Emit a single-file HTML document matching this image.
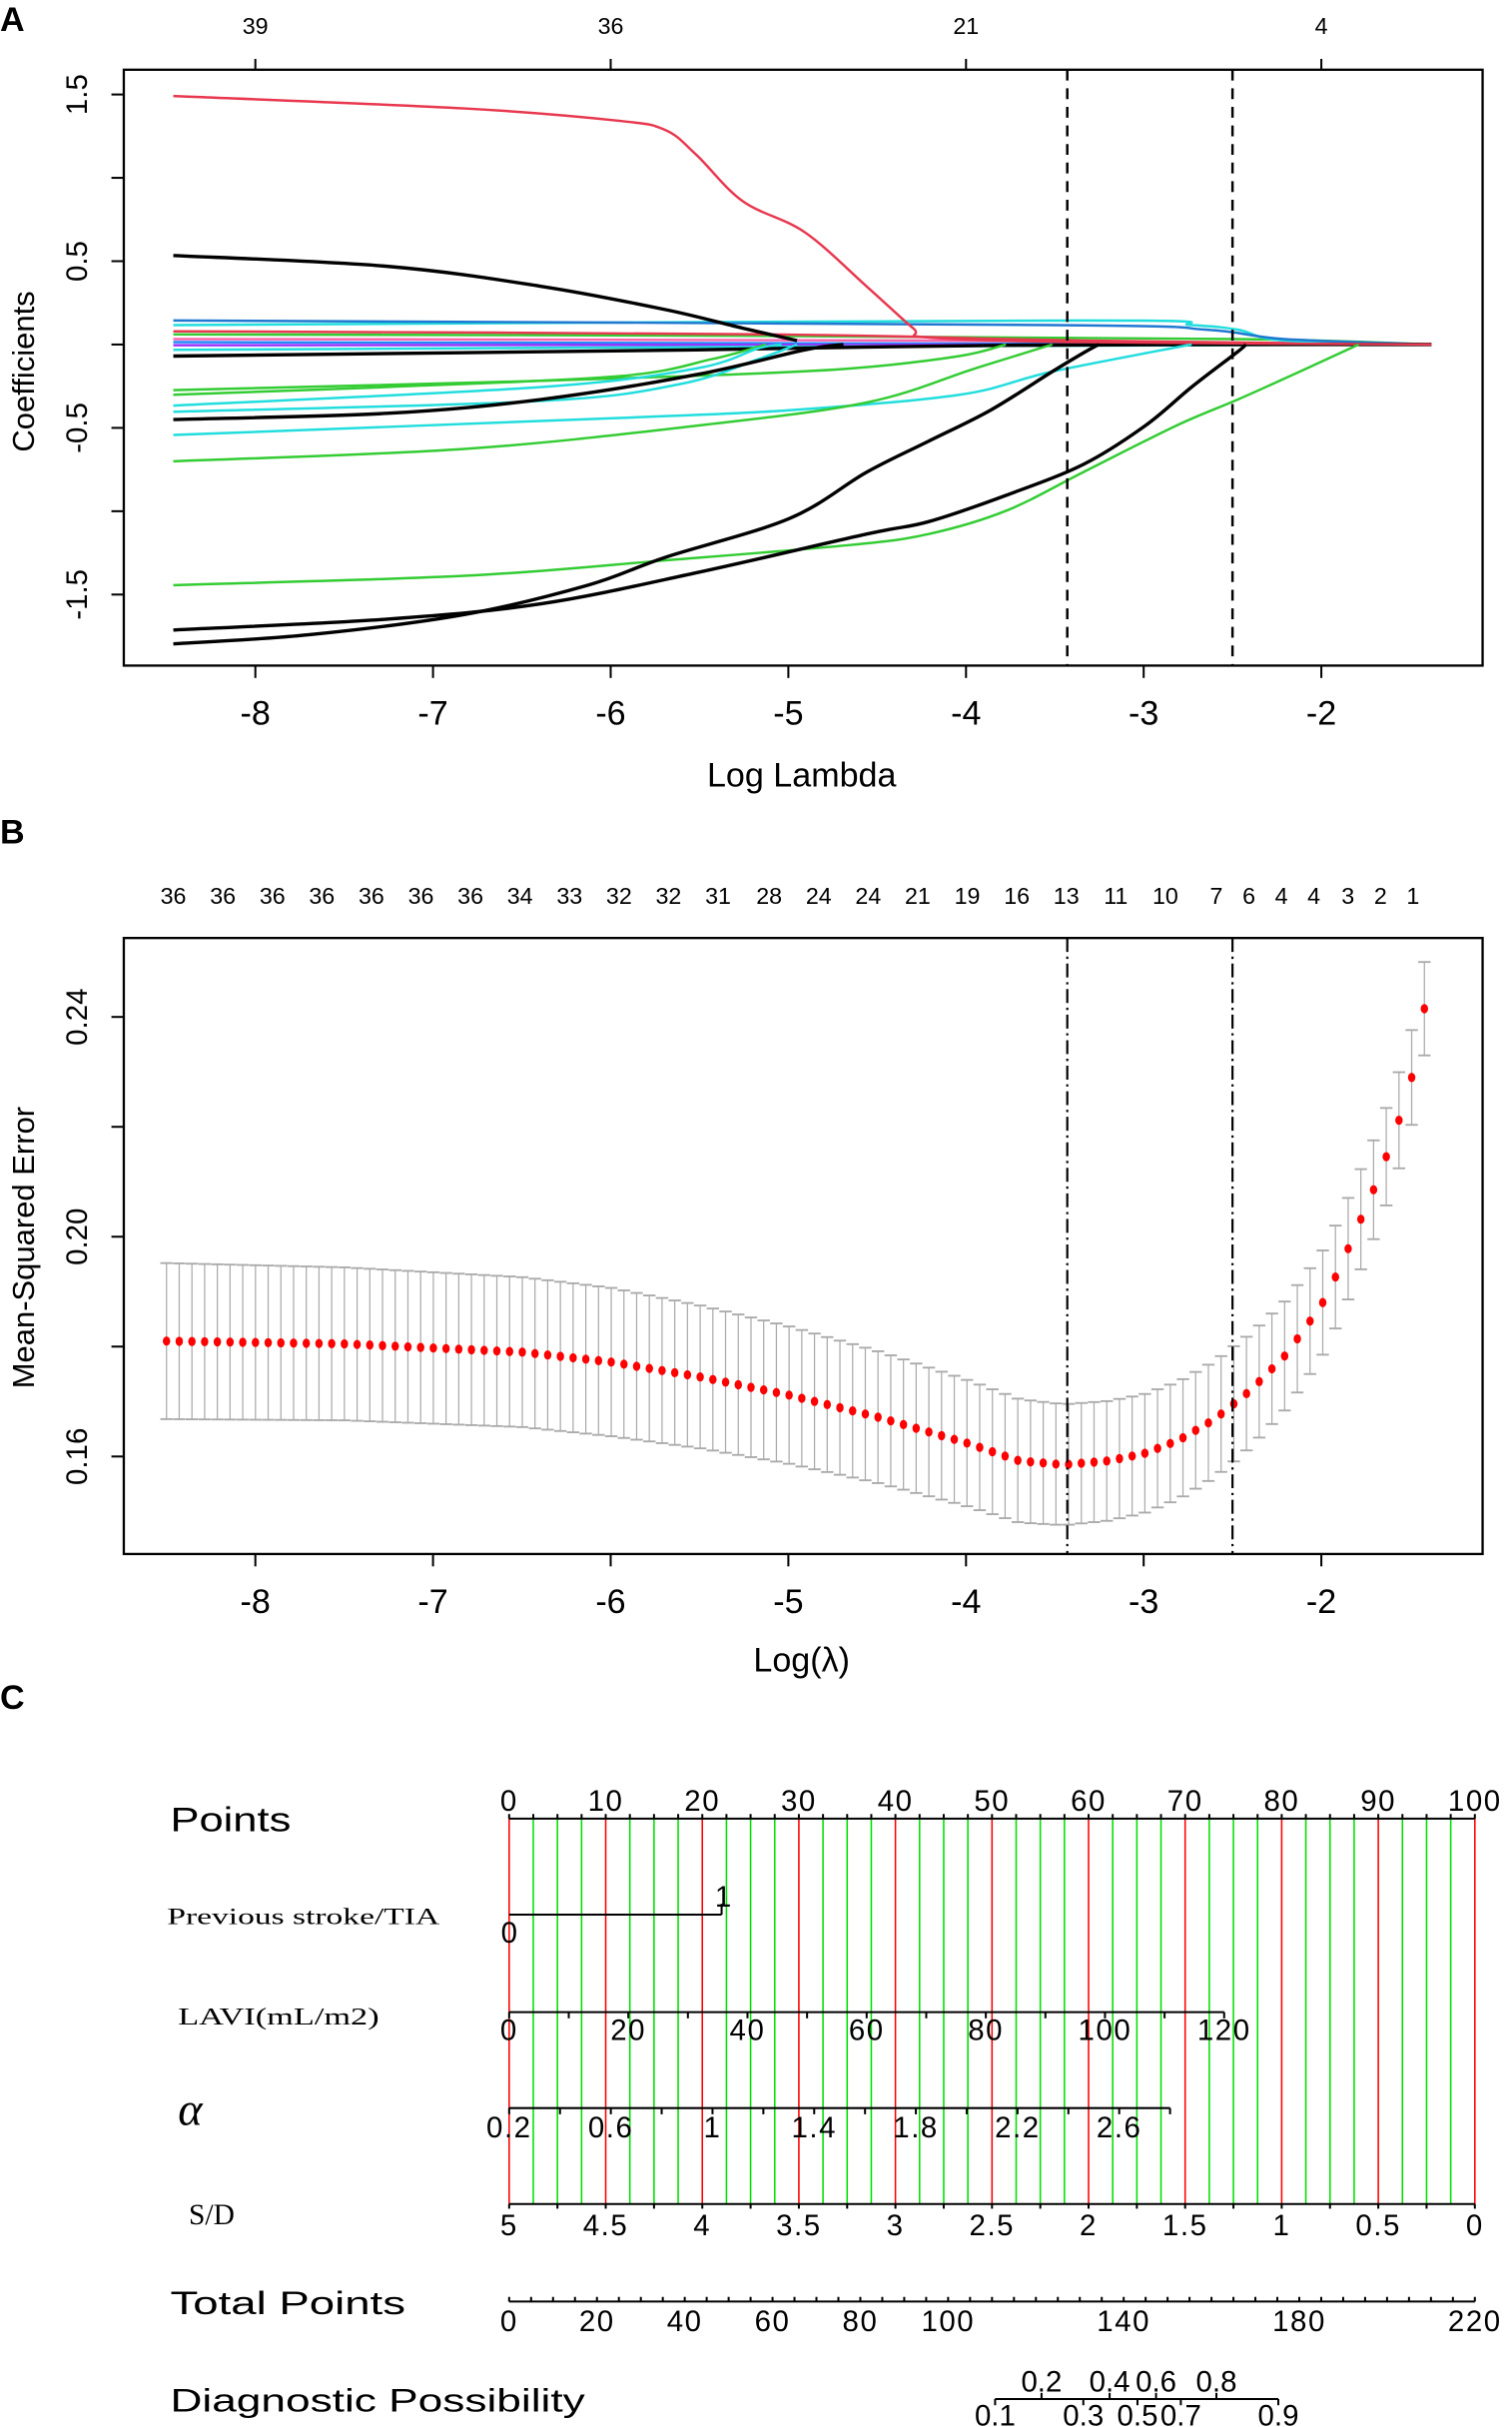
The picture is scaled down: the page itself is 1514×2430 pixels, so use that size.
<!DOCTYPE html>
<html><head><meta charset="utf-8"><style>
html,body{margin:0;padding:0;background:#fff;}
svg{display:block}
.n{font-family:"Liberation Sans Narrow","Liberation Sans",sans-serif;}
.s{font-family:"Liberation Sans",sans-serif;}
.r{font-family:"Liberation Serif",serif;}
</style></head><body>
<svg id="c" width="1514" height="2430" viewBox="0 0 977 1568" xmlns="http://www.w3.org/2000/svg"></svg>
<script>
var o=[];
function L(x1,y1,x2,y2,st){o.push('<line x1="'+x1+'" y1="'+y1+'" x2="'+x2+'" y2="'+y2+'" '+(st||'stroke="#000" stroke-width="1.3"')+'/>');}
function T(x,y,t,cls,sz,anc,extra){o.push('<text x="'+x+'" y="'+y+'" class="'+cls+'" font-size="'+sz+'" text-anchor="'+(anc||'middle')+'" '+(extra||'')+'>'+t+'</text>');}
function P(pts,col,w){
 var d='M'+pts[0][0]+','+pts[0][1];
 for(var i=0;i<pts.length-1;i++){var p0=pts[Math.max(0,i-1)],p1=pts[i],p2=pts[i+1],p3=pts[Math.min(pts.length-1,i+2)];
  var c1x=p1[0]+(p2[0]-p0[0])/6,c1y=p1[1]+(p2[1]-p0[1])/6,c2x=p2[0]-(p3[0]-p1[0])/6,c2y=p2[1]-(p3[1]-p1[1])/6;
  d+=' C'+c1x+','+c1y+' '+c2x+','+c2y+' '+p2[0]+','+p2[1];}
 o.push('<path fill="none" stroke="'+col+'" stroke-width="'+(w||1.6)+'" stroke-linejoin="round" d="'+d+'"/>');}
// ---------- Panel A
T(0,20,'A','s',22,'start','font-weight="bold"');
o.push('<rect x="80" y="45" width="878" height="385" fill="none" stroke="#000" stroke-width="1.5"/>');
function xa(v){return 165+(v+8)*114.8;}
for(var v=-8;v<=-2;v++){var x=xa(v);L(x,430,x,438);T(x,468,String(v),'n',22);}
[['39',-8],['36',-6],['21',-4],['4',-2]].forEach(function(a){T(xa(a[1]),22,a[0],'n',15);L(xa(a[1]),45,xa(a[1]),38);});
T(518,508,'Log Lambda','n',22);
function ya(c){return 61+(1.5-c)*107.7;}
for(var c=-1.5;c<=1.51;c+=0.5){var y=ya(c);L(72,y,80,y);}
[1.5,0.5,-0.5,-1.5].forEach(function(c){var y=ya(c);T(56,y,c.toFixed(1),'s',19,'middle','transform="rotate(-90 56 '+y+')"');});
T(22,240,'Coefficients','s',20,'middle','transform="rotate(-90 22 240)"');
var Z=222.5;
var lines=[
['#33cc33',[[112,216],[500,217],[800,219],[925,Z]]],
['#ff66aa',[[112,219],[600,220],[925,Z]]],
['#2288ff',[[112,221],[925,Z]]],
['#9933ff',[[112,223],[925,Z]]],
['#22dddd',[[112,226],[500,224],[925,Z]]],
['#e8384f',[[112,214],[500,216],[700,220],[925,Z]]],
['#22dddd',[[112,210],[700,207],[770,210],[800,213],[830,220],[925,Z]]],
['#1f78d1',[[112,207],[680,210],[780,213],[830,219],[925,Z]]],
['#000',[[112,230],[450,226],[650,223],[925,Z]]],
['#e8384f',[[112,62],[300,70],[400,78],[430,84],[450,100],[480,130],[520,150],[560,185],[590,212],[600,218],[700,221],[925,Z]]],
['#000',[[112,165],[250,172],[350,185],[430,200],[480,212],[515,220]]],
['#33cc33',[[112,252],[350,246],[470,242],[550,238],[620,230],[650,Z]]],
['#33cc33',[[112,255],[250,250],[400,243],[460,232],[495,Z]]],
['#22dddd',[[112,262],[350,250],[450,238],[490,225],[505,Z]]],
['#22dddd',[[112,266],[350,259],[440,248],[490,232],[515,Z]]],
['#000',[[112,271],[250,267],[350,258],[450,242],[520,226],[545,Z]]],
['#22dddd',[[112,281],[400,270],[510,265],[620,255],[680,240],[770,Z]]],
['#33cc33',[[112,298],[300,290],[450,275],[560,260],[630,238],[680,Z]]],
['#33cc33',[[112,378],[300,372],[430,362],[550,352],[600,345],[650,330],[700,305],[760,275],[800,258],[840,240],[878,Z]]],
['#000',[[112,407],[250,400],[350,390],[450,370],[560,345],[600,337],[650,320],[700,300],[740,275],[770,250],[800,227],[805,Z]]],
['#000',[[112,416],[200,410],[300,397],[380,378],[430,360],[510,335],[560,305],[600,285],[640,265],[680,240],[700,228],[710,Z]]]
];
lines.forEach(function(l){P(l[1],l[0],l[0]=='#000'?2.2:1.6);});
L(xa(-3.43),45,xa(-3.43),430,'stroke="#000" stroke-width="1.6" stroke-dasharray="7,5"');
L(xa(-2.5),45,xa(-2.5),430,'stroke="#000" stroke-width="1.6" stroke-dasharray="7,5"');
// ---------- Panel B
T(0,545,'B','s',22,'start','font-weight="bold"');
o.push('<rect x="80" y="606" width="878" height="398" fill="none" stroke="#000" stroke-width="1.5"/>');
for(var v=-8;v<=-2;v++){var x=xa(v);L(x,1004,x,1012);T(x,1042,String(v),'n',22);}
T(518,1080,'Log(λ)','n',22);
function yb(m){return 657+(0.24-m)/0.04*142;}
[0.16,0.18,0.20,0.22,0.24].forEach(function(m){L(72,yb(m),80,yb(m));});
[0.24,0.20,0.16].forEach(function(m){var y=yb(m);T(56,y,m.toFixed(2),'s',19,'middle','transform="rotate(-90 56 '+y+')"');});
T(22,806,'Mean-Squared Error','s',20,'middle','transform="rotate(-90 22 806)"');
var tops='36 36 36 36 36 36 36 34 33 32 32 31 28 24 24 21 19 16 13 11 10 7 6 4 4 3 2 1'.split(' ');
var tx=[112,144,176,208,240,272,304,336,368,400,432,464,497,529,561,593,625,657,689,721,753,786,807,828,849,871,892,913];
tops.forEach(function(t,i){T(tx[i],584,t,'n',15);});
function interp(pts,v){for(var i=0;i<pts.length-1;i++){if(v<=pts[i+1][0]){var a=pts[i],b=pts[i+1],f=(v-a[0])/(b[0]-a[0]);return a[1]+f*(b[1]-a[1]);}}return pts[pts.length-1][1];}
var mean=[[-8.5,0.181],[-7.5,0.1805],[-6.5,0.179],[-6,0.1772],[-5.5,0.1745],[-5,0.1712],[-4.5,0.1672],[-4,0.1625],[-3.7,0.1592],[-3.45,0.1585],[-3.2,0.1592],[-3,0.1605],[-2.8,0.163],[-2.6,0.1668],[-2.4,0.172],[-2.2,0.1785],[-2,0.1875],[-1.9,0.194],[-1.8,0.2015],[-1.7,0.209],[-1.6,0.2175],[-1.5,0.2275],[-1.42,0.2415]];
var se=[[-8.5,0.0142],[-6,0.0135],[-5,0.0125],[-4,0.0115],[-3.45,0.0110],[-3,0.0108],[-2.5,0.0105],[-2,0.0095],[-1.42,0.0085]];
var N=100;
for(var i=0;i<N;i++){var v=-8.5+i*(7.08/(N-1));var x=xa(v);var m=interp(mean,v),s=interp(se,v);
 var yu=yb(m+s),yl=yb(m-s);
 L(x,yu,x,yl,'stroke="#aaa" stroke-width="0.8"');
 L(x-4,yu,x+4,yu,'stroke="#aaa" stroke-width="1.2"');L(x-4,yl,x+4,yl,'stroke="#aaa" stroke-width="1.2"');
}
for(var i=0;i<N;i++){var v=-8.5+i*(7.08/(N-1));o.push('<ellipse cx="'+xa(v)+'" cy="'+yb(interp(mean,v))+'" rx="2.4" ry="3" fill="#f00"/>');}
L(xa(-3.43),606,xa(-3.43),1004,'stroke="#000" stroke-width="1.4" stroke-dasharray="9,3,1.5,3"');
L(xa(-2.5),606,xa(-2.5),1004,'stroke="#000" stroke-width="1.4" stroke-dasharray="9,3,1.5,3"');
// ---------- Panel C
T(0,1104,'C','s',22,'start','font-weight="bold"');
function xp(p){return 329+p*6.24;}
var yTop=1175,yBot=1424;
for(var p=0;p<=100;p+=2.5){var red=(p%10==0);L(xp(p),yTop,xp(p),yBot,'stroke="'+(red?'#f00':'#00e000')+'" stroke-width="1"');}
L(329,yTop,953,yTop);
for(var p=0;p<=100;p+=2.5){L(xp(p),yTop,xp(p),yTop-3);}
var NS='letter-spacing="1"';
for(var p=0;p<=100;p+=10){T(xp(p),1170,String(p),'s',19,'middle',NS);}
T(110,1183,'Points','s',22,'start','textLength="78" lengthAdjust="spacingAndGlyphs"');
T(108,1243,'Previous stroke/TIA','r',15,'start','textLength="176" lengthAdjust="spacingAndGlyphs"');
L(329,1237,xp(22),1237);L(xp(22),1237,xp(22),1230);
T(xp(22)+1,1232,'1','s',19);T(329,1255,'0','s',19);
T(115,1308,'LAVI(mL/m2)','r',16,'start','textLength="130" lengthAdjust="spacingAndGlyphs"');
function xl(v){return 329+v/20*77;}
L(329,1300,xl(120),1300);
for(var v=0;v<=120;v+=10)L(xl(v),1300,xl(v),1304);
for(var v=0;v<=120;v+=20)T(xl(v),1318,String(v),'s',19,'middle',NS);
T(115,1373,'α','r',30,'start','font-style="italic"');
function xal(v){return 329+(v-0.2)/0.4*65.7;}
L(329,1362,xal(2.8),1362);
for(var v=0.2;v<=2.81;v+=0.2)L(xal(v),1362,xal(v),1366);
[0.2,0.6,1,1.4,1.8,2.2,2.6].forEach(function(v){T(xal(v),1381,String(v),'s',19,'middle',NS);});
T(122,1437,'S/D','r',19,'start');
L(329,yBot,953,yBot);
for(var v=0;v<=5;v+=0.25)L(329+(5-v)*124.8,yBot,329+(5-v)*124.8,yBot+3);
[5,4.5,4,3.5,3,2.5,2,1.5,1,0.5,0].forEach(function(v){T(329+(5-v)*124.8,1444,String(v),'s',19,'middle',NS);});
T(110,1495,'Total Points','s',21,'start','textLength="152" lengthAdjust="spacingAndGlyphs"');
function xt(v){return 329+v/220*624;}
L(329,1487,953,1487);
for(var v=0;v<=220;v+=5)L(xt(v),1487,xt(v),1484);
[0,20,40,60,80,100,140,180,220].forEach(function(v){T(xt(v),1506,String(v),'s',19,'middle',NS);});
T(110,1558,'Diagnostic Possibility','s',21,'start','textLength="268" lengthAdjust="spacingAndGlyphs"');
L(643,1550,826,1550);
[[0.1,643],[0.2,673],[0.3,700],[0.4,717],[0.5,735],[0.6,747],[0.7,763],[0.8,786],[0.9,826]].forEach(function(a,i){
 if(i%2==1){L(a[1],1550,a[1],1546);T(a[1],1545,String(a[0]),'s',19);} else {L(a[1],1550,a[1],1554);T(a[1],1567,String(a[0]),'s',19);}
});
document.getElementById('c').innerHTML=o.join('');
</script>
</body></html>
